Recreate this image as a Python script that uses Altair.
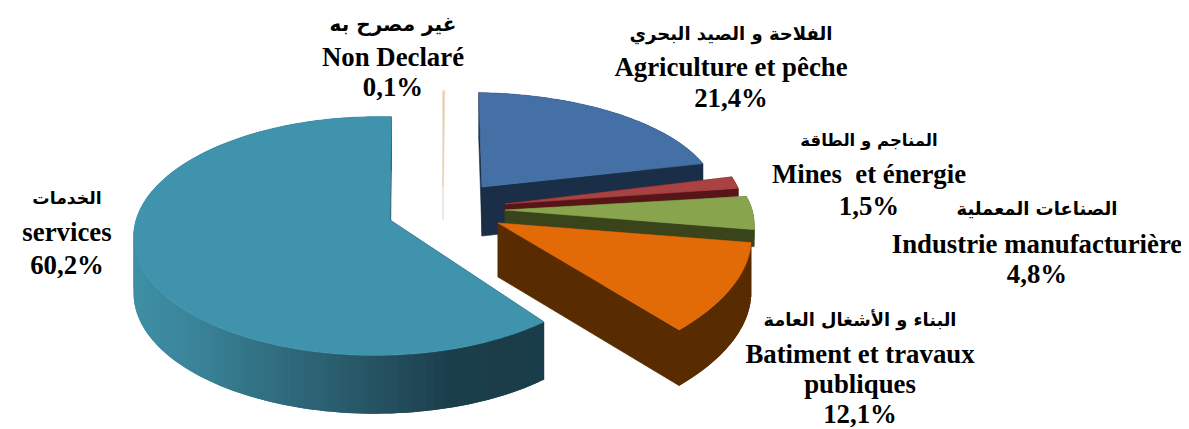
import math
import altair as alt
import pandas as pd

# --- data ---
shares = [0.1, 21.4, 1.5, 4.8, 12.1, 60.2]
arabic = ["غير مصرح به", "الفلاحة و الصيد البحري", "المناجم و الطاقة",
          "الصناعات المعملية", "البناء و الأشغال العامة", "الخدمات"]
latin = [["Non Declaré"], ["Agriculture et pêche"], ["Mines\u00a0 et énergie"],
         ["Industrie manufacturière"], ["Batiment et travaux", "publiques"], ["services"]]
pct = ["0,1%", "21,4%", "1,5%", "4,8%", "12,1%", "60,2%"]

# --- layout / style (page pixels) ---
W, H = 1173, 421
K = 0.134
wedges = [
    dict(ax=443, ay=186, R=240, A=108, m=0.06, d=34, rot=0, top="#f4cba2", side="#e9e0d8"),
    dict(ax=482, ay=187, R=248, A=107, m=0.06, d=49, rot=-1.2, top="#4570a5", side="#1a2e48"),
    dict(ax=505, ay=204, R=253, A=135, m=0.06, d=8, rot=0, top="#a94242", side="#571517"),
    dict(ax=505, ay=210, R=262, A=116, m=0.06, d=17, rot=0, top="#88a54e", side="#39441b"),
    dict(ax=498, ay=223, R=327, A=142, m=0.30, d=54, rot=0, top="#e26b08", side="#582b00"),
    dict(ax=390, ay=220, R=240, A=117, m=0.055, d=56, rot=0, top="#3f93ad", side=None),
]
label_rows = [
    (393, [25, 58, 88]), (731, [35, 68, 99]), (869, [141, 175, 207]),
    (1037, [210, 245, 275]), (860, [321, 355, 385, 415]), (67, [199, 233, 266]),
]
arabic_sizes = [20, 18, 16.5, 18, 17.8, 17.3]
grad = [(133, (62, 143, 166)), (197, (58, 131, 152)), (287, (46, 106, 124)),
        (387, (37, 79, 95)), (453, (26, 62, 74)), (600, (25, 60, 72))]


def grad_col(x):
    for (x0, c0), (x1, c1) in zip(grad, grad[1:]):
        if x <= x1:
            t = max(0.0, (x - x0) / (x1 - x0))
            return "#%02x%02x%02x" % tuple(round(a + (b - a) * t) for a, b in zip(c0, c1))
    return "#193c48"


def pt(w, deg):
    deg += w["rot"]
    u, v = math.sin(math.radians(deg)), math.cos(math.radians(deg))
    q = 1 + K * v + w["m"] * u
    return (w["ax"] + w["R"] * u / q, w["ay"] - w["A"] * v / q, 1 + 0.3 * K * v)


features = []


def poly(points, col, stroke=True):
    pts = [[round(x - 8, 2), round(y - 8, 2)] for x, y in points]
    features.append({"type": "Feature",
                     "properties": {"fill": col, "sw": 0.6 if stroke else 0},
                     "geometry": {"type": "Polygon", "coordinates": [pts + [pts[0]]]}})


start = 0.0
for w, s in zip(wedges, shares):
    a0, a1 = start, start + s * 3.6
    start = a1
    n = max(2, int((a1 - a0) / 1.5))
    angs = [a0 + (a1 - a0) * i / n for i in range(n + 1)]
    arc = [pt(w, a) for a in angs]
    d = w["d"]
    side = w["side"] or grad_col(600)
    # cut faces
    for e in (arc[0], arc[-1]):
        poly([(w["ax"], w["ay"]), e[:2], (e[0], e[1] + d / e[2]), (w["ax"], w["ay"] + d)], side)
    # outer wall: every strip reaches two steps on, so the next one overlaps it
    for i in range(len(arc) - 1):
        p = arc[i]
        mid = arc[min(i + 1, len(arc) - 1)]
        q = arc[min(i + 2, len(arc) - 1)]
        col = w["side"] or grad_col((p[0] + mid[0]) / 2)
        poly([p[:2], mid[:2], q[:2], (q[0], q[1] + d / q[2]), (mid[0], mid[1] + d / mid[2]),
              (p[0], p[1] + d / p[2])], col, stroke=False)
    # top face
    poly([(w["ax"], w["ay"])] + [p[:2] for p in arc], w["top"])

pie = (
    alt.Chart(alt.Data(values=features))
    .mark_geoshape()
    .encode(
        color=alt.Color("properties.fill:N", scale=None, legend=None),
        stroke=alt.Stroke("properties.fill:N", scale=None, legend=None),
        strokeWidth=alt.StrokeWidth("properties.sw:Q", scale=None, legend=None),
    )
    .project(type="identity", scale=1, translate=[0, 0])
)

ar_rows, la_rows = [], []
for (cx, ys), ar, la, p, fs in zip(label_rows, arabic, latin, pct, arabic_sizes):
    ar_rows.append({"x": cx - 8, "y": ys[0] - 8, "t": ar, "fs": fs})
    for y, t in zip(ys[1:], la + [p]):
        la_rows.append({"x": cx - 8, "y": y - 8, "t": t})

xs = alt.Scale(domain=[0, W], range=[0, W])
ys_ = alt.Scale(domain=[0, H], range=[0, H])
enc = dict(x=alt.X("x:Q", scale=xs, axis=None), y=alt.Y("y:Q", scale=ys_, axis=None), text="t:N")

t_ar = alt.Chart(pd.DataFrame(ar_rows)).mark_text(
    font="DejaVu Sans", fontWeight="bold", color="black", baseline="middle", align="center"
).encode(size=alt.Size("fs:Q", scale=None, legend=None), **enc)
t_la = alt.Chart(pd.DataFrame(la_rows)).mark_text(
    font="Liberation Serif", fontWeight="bold", fontSize=26.8, color="black", baseline="middle", align="center"
).encode(**enc)

chart = (
    alt.layer(pie, t_ar, t_la)
    .resolve_scale(x="shared", y="shared")
    .properties(width=W, height=H, padding=0, autosize=alt.AutoSizeParams(type="none"))
    .configure_view(strokeWidth=0)
)
chart.save("out.html", embed_options={"renderer": "svg", "actions": False})
